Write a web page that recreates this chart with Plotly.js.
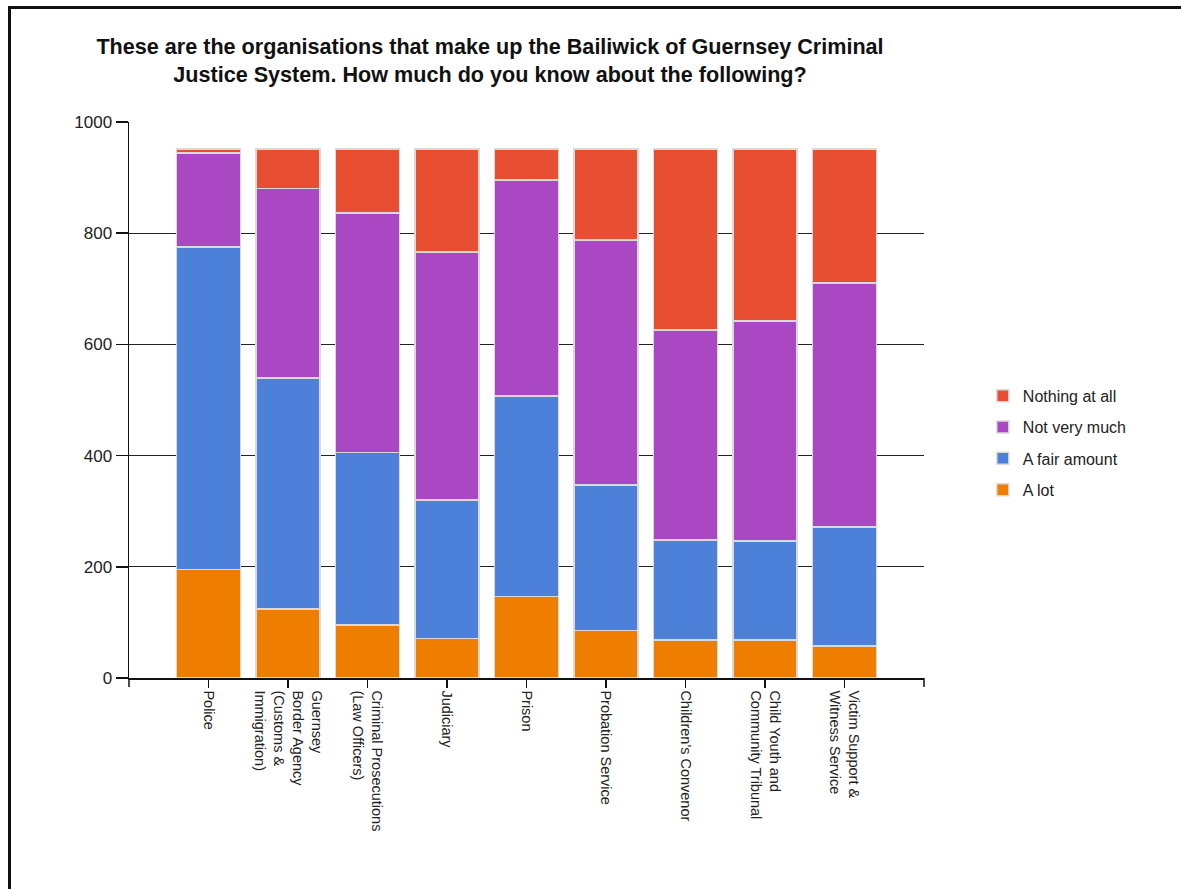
<!DOCTYPE html>
<html>
<head>
<meta charset="utf-8">
<script src="https://cdn.plot.ly/plotly-3.0.1.min.js"></script>
<style>
  html, body { margin: 0; padding: 0; background: #fff; overflow: hidden; }
  #chart { position: absolute; left: 0; top: 0; width: 1181px; height: 889px; }
  #frame { position: absolute; left: 8px; top: 6px; width: 1300px; height: 1000px;
           border-left: 3px solid #111; border-top: 3px solid #111; pointer-events: none; }
</style>
</head>
<body>
<div id="chart"></div>
<div id="frame"></div>
<script>
const categories = [
  "Police",
  "Guernsey<br>Border Agency<br>(Customs &<br>Immigration)",
  "Criminal Prosecutions<br>(Law Officers)",
  "Judiciary",
  "Prison",
  "Probation Service",
  "Children's Convenor",
  "Child Youth and<br>Community Tribunal",
  "Victim Support &<br>Witness Service"
];
const aLot         = [195, 124, 95, 71, 147, 85, 68, 68, 58];
const aFairAmount  = [580, 416, 311, 249, 360, 262, 180, 178, 214];
const notVeryMuch  = [169, 340, 430, 446, 389, 441, 378, 396, 438];
const nothingAtAll = [7, 71, 115, 185, 55, 163, 325, 309, 241];

const seriesNames = ["A lot", "A fair amount", "Not very much", "Nothing at all"];
const seriesValues = [aLot, aFairAmount, notVeryMuch, nothingAtAll];
const seriesColors = ["#ee7d00", "#4d80d8", "#aa48c4", "#e84e32"];

const xIdx = categories.map((c, i) => i);

const traces = seriesNames.map((name, k) => ({
  type: "bar",
  name: name,
  legendgroup: "g" + k,
  legendrank: 1000 - k,
  x: xIdx,
  y: seriesValues[k],
  width: 0.8,
  marker: { color: seriesColors[k], line: { color: "#d9d9d9", width: 1.5 } },
  hoverinfo: "name+y"
}));

const layout = {
  width: 1181,
  height: 889,
  barmode: "stack",
  paper_bgcolor: "#ffffff",
  plot_bgcolor: "#ffffff",
  margin: { l: 129, r: 257, t: 122, b: 211 },
  font: { family: "Liberation Sans, Arial, sans-serif", color: "#222" },
  title: {
    text: "<b>These are the organisations that make up the Bailiwick of Guernsey Criminal<br>Justice System. How much do you know about the following?</b>",
    font: { size: 21.6, color: "#111", family: "Liberation Sans, Arial, sans-serif" },
    x: 490 / 1181, xanchor: "center", xref: "container",
    y: 1 - 54 / 889, yanchor: "top", yref: "container"
  },
  xaxis: {
    range: [-1, 9],
    tickmode: "array",
    tickvals: xIdx,
    ticktext: categories,
    tickangle: 90,
    ticks: "outside",
    ticklen: 8,
    tickcolor: "#111",
    tickwidth: 1.5,
    showline: true,
    linecolor: "#111",
    linewidth: 1.5,
    showgrid: false,
    zeroline: false,
    tickfont: { size: 14.5, color: "#222" },
    fixedrange: true
  },
  yaxis: {
    range: [0, 1000],
    dtick: 200,
    ticks: "outside",
    ticklen: 12,
    tickcolor: "#111",
    tickwidth: 1.5,
    showline: true,
    linecolor: "#111",
    linewidth: 1.5,
    showgrid: true,
    gridcolor: "#222",
    gridwidth: 1.2,
    zeroline: false,
    tickfont: { size: 17, color: "#222" },
    fixedrange: true
  },
  legend: {
    x: 1.074, xanchor: "left",
    y: 0.538, yanchor: "top",
    traceorder: "grouped",
    font: { size: 16, color: "#222" },
    tracegroupgap: 7.5,
    itemwidth: 30,
    bgcolor: "rgba(0,0,0,0)"
  },
  shapes: [
    { type: "line", xref: "paper", yref: "paper", x0: 1, x1: 1, y0: 0, y1: -9 / 556,
      line: { color: "#111", width: 1.5 } },
    { type: "line", xref: "paper", yref: "paper", x0: 0, x1: 0, y0: 0, y1: -9 / 556,
      line: { color: "#111", width: 1.5 } }
  ],
  bargap: 0.2,
  showlegend: true
};

Plotly.newPlot("chart", traces, layout, { displayModeBar: false, staticPlot: true });
</script>
</body>
</html>
